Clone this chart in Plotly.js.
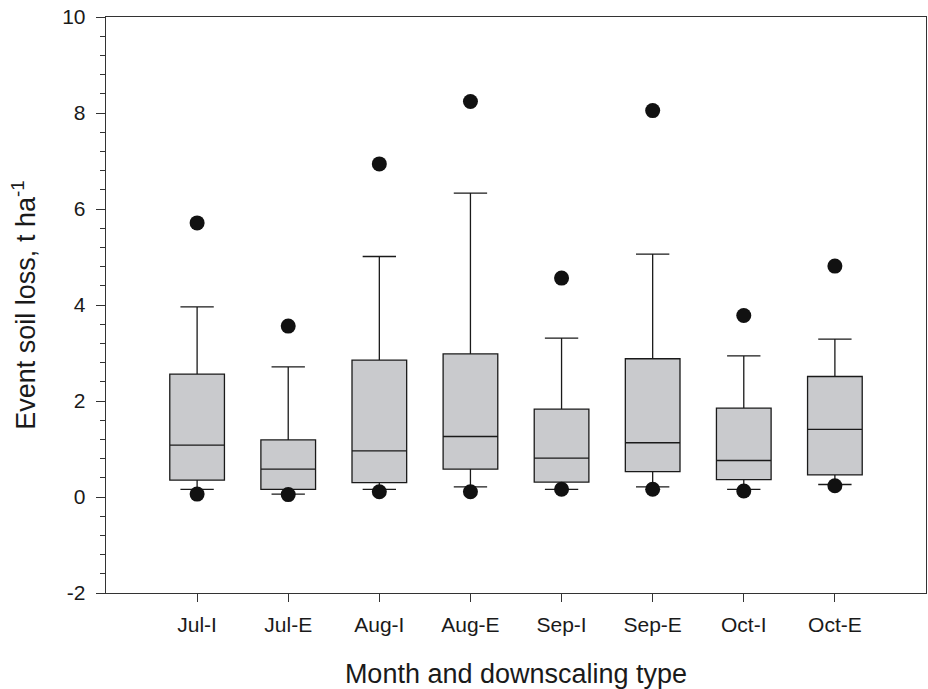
<!DOCTYPE html>
<html>
<head>
<meta charset="utf-8">
<script src="https://cdn.plot.ly/plotly-3.0.1.min.js"></script>
<style>html,body{margin:0;padding:0;background:#fff;}</style>
</head>
<body>
<div id="chart" style="width:928px;height:689px;"></div>
<script>
const categories = ["Jul-I","Jul-E","Aug-I","Aug-E","Sep-I","Sep-E","Oct-I","Oct-E"];
const lowerWhisker = [0.16, 0.06, 0.16, 0.21, 0.16, 0.21, 0.16, 0.26];
const q1Values     = [0.35, 0.16, 0.30, 0.58, 0.31, 0.53, 0.36, 0.46];
const medianValues = [1.08, 0.58, 0.96, 1.26, 0.81, 1.13, 0.76, 1.41];
const q3Values     = [2.56, 1.19, 2.85, 2.98, 1.83, 2.88, 1.85, 2.51];
const upperWhisker = [3.96, 2.71, 5.01, 6.33, 3.31, 5.06, 2.94, 3.29];
const outlierHigh  = [5.71, 3.56, 6.94, 8.24, 4.56, 8.05, 3.78, 4.81];
const outlierLow   = [0.06, 0.05, 0.11, 0.11, 0.16, 0.16, 0.125, 0.235];
const yTickVals    = [-2, 0, 2, 4, 6, 8, 10];
const yTickText    = ["-2", "0", "2", "4", "6", "8", "10"];

const outlierX = categories.concat(categories);
const outlierY = outlierHigh.concat(outlierLow);

const traces = [
  {
    type: "box",
    x: categories,
    q1: q1Values,
    median: medianValues,
    q3: q3Values,
    lowerfence: lowerWhisker,
    upperfence: upperWhisker,
    boxpoints: false,
    fillcolor: "rgb(201,202,205)",
    line: {color: "#1a1a1a", width: 1.3},
    width: 0.6,
    whiskerwidth: 0.61,
    showlegend: false,
    hoverinfo: "skip"
  },
  {
    type: "scatter",
    mode: "markers",
    x: outlierX,
    y: outlierY,
    marker: {color: "#111111", size: 15, symbol: "circle"},
    showlegend: false,
    hoverinfo: "skip",
    cliponaxis: false
  }
];

const layout = {
  width: 928,
  height: 689,
  margin: {l: 106, r: 2, t: 17, b: 96},
  paper_bgcolor: "#ffffff",
  plot_bgcolor: "#ffffff",
  font: {family: "Liberation Sans, Arial, sans-serif", color: "#1a1a1a"},
  showlegend: false,
  xaxis: {
    type: "category",
    categoryorder: "array",
    categoryarray: categories,
    range: [-1, 8],
    showgrid: false,
    zeroline: false,
    showline: true,
    mirror: true,
    linecolor: "#333333",
    linewidth: 1.3,
    ticks: "outside",
    ticklen: 8,
    tickcolor: "#333333",
    tickwidth: 1,
    ticklabelstandoff: 4,
    tickfont: {size: 21, color: "#1a1a1a"},
    title: {text: "Month and downscaling type", font: {size: 27, color: "#1a1a1a"}, standoff: 31}
  },
  yaxis: {
    range: [-2, 10],
    tickmode: "array",
    tickvals: yTickVals,
    ticktext: yTickText,
    showgrid: false,
    zeroline: false,
    showline: true,
    mirror: true,
    linecolor: "#333333",
    linewidth: 1.3,
    ticks: "outside",
    ticklen: 9,
    tickcolor: "#333333",
    tickwidth: 1,
    ticklabelstandoff: 6,
    tickfont: {size: 21, color: "#1a1a1a"},
    minor: {tickmode: "linear", tick0: 0, dtick: 0.4, ticks: "outside", ticklen: 5, tickcolor: "#333333", tickwidth: 1, showgrid: false},
    title: {text: "Event soil loss, t ha<sup>-1</sup>", font: {size: 27, color: "#1a1a1a"}, standoff: 18}
  }
};

Plotly.newPlot("chart", traces, layout, {displayModeBar: false, staticPlot: true});
</script>
</body>
</html>
